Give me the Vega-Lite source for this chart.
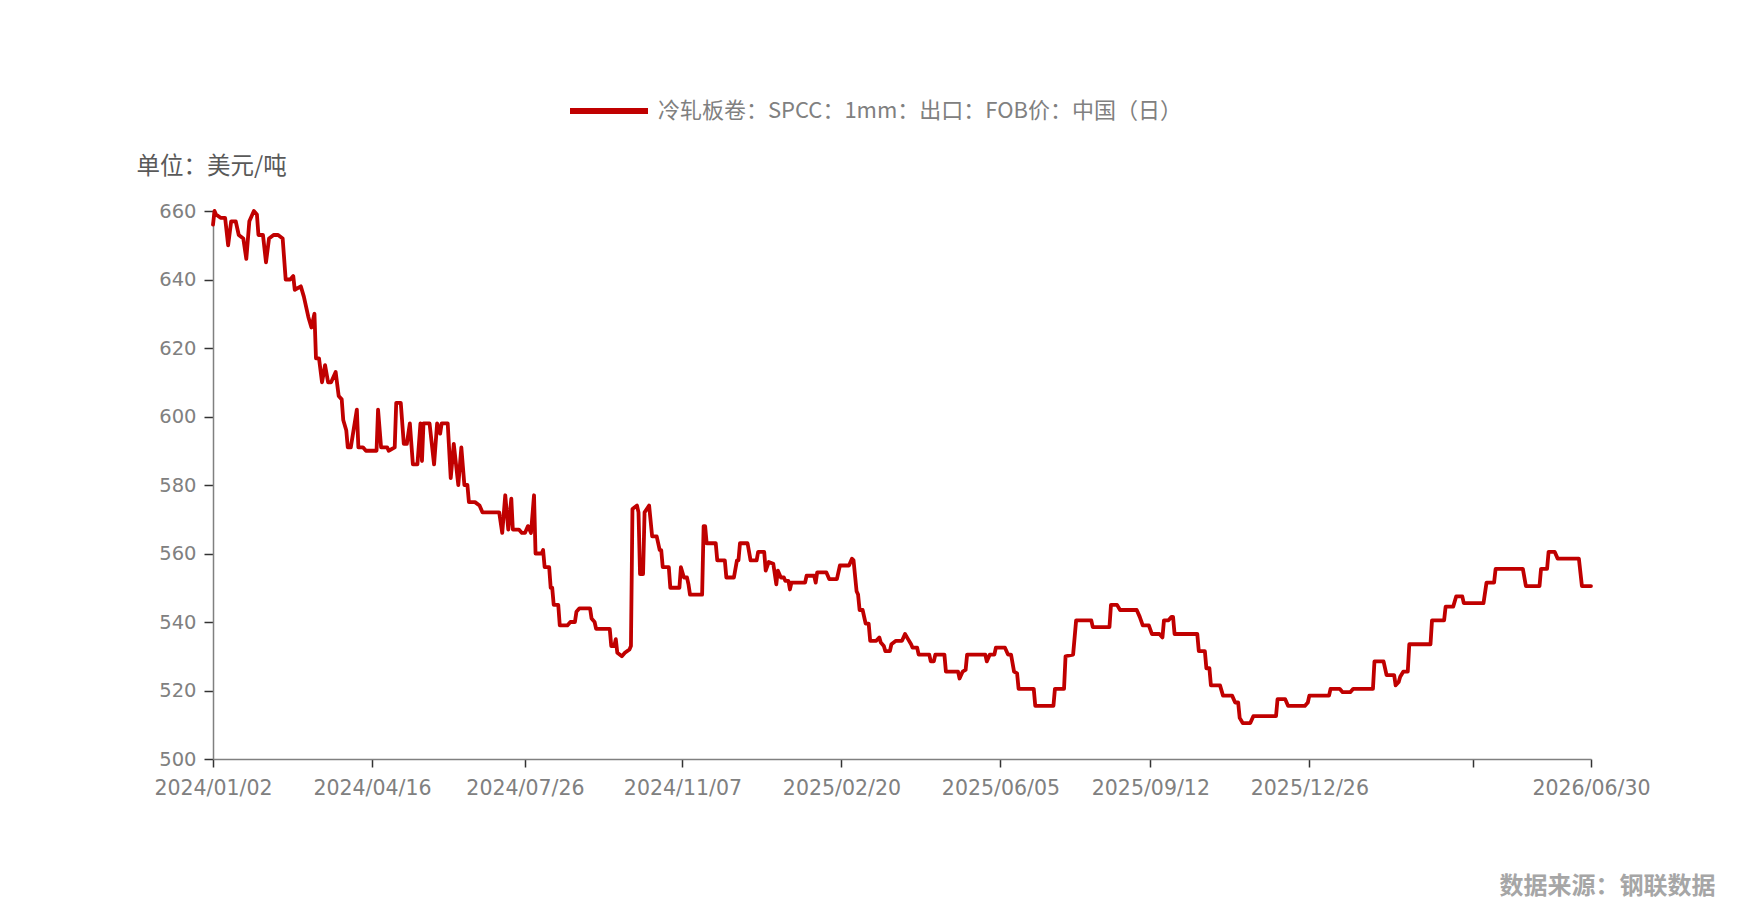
{
  "$schema": "https://vega.github.io/schema/vega-lite/v6.json",
  "width": 1378,
  "height": 548,
  "autosize": {"type": "none"},
  "padding": {"left": 213, "top": 211, "right": 159, "bottom": 159},
  "background": "white",
  "config": {"view": {"stroke": null}, "font": "Noto Sans CJK SC"},
  "data": {"values": [
    {"date": "2024-01-02", "price": 656}, {"date": "2024-01-03", "price": 660}, {"date": "2024-01-04", "price": 659},
    {"date": "2024-01-07", "price": 658}, {"date": "2024-01-10", "price": 658}, {"date": "2024-01-12", "price": 650},
    {"date": "2024-01-14", "price": 657}, {"date": "2024-01-17", "price": 657}, {"date": "2024-01-19", "price": 653},
    {"date": "2024-01-22", "price": 652}, {"date": "2024-01-24", "price": 646}, {"date": "2024-01-26", "price": 657},
    {"date": "2024-01-29", "price": 660}, {"date": "2024-01-31", "price": 659}, {"date": "2024-02-01", "price": 653},
    {"date": "2024-02-04", "price": 653}, {"date": "2024-02-06", "price": 645}, {"date": "2024-02-08", "price": 652},
    {"date": "2024-02-11", "price": 653}, {"date": "2024-02-14", "price": 653}, {"date": "2024-02-17", "price": 652},
    {"date": "2024-02-19", "price": 640}, {"date": "2024-02-22", "price": 640}, {"date": "2024-02-24", "price": 641},
    {"date": "2024-02-25", "price": 637}, {"date": "2024-02-29", "price": 638}, {"date": "2024-03-02", "price": 635},
    {"date": "2024-03-05", "price": 629}, {"date": "2024-03-07", "price": 626}, {"date": "2024-03-09", "price": 630},
    {"date": "2024-03-10", "price": 617}, {"date": "2024-03-12", "price": 617}, {"date": "2024-03-14", "price": 610},
    {"date": "2024-03-16", "price": 615}, {"date": "2024-03-18", "price": 610}, {"date": "2024-03-20", "price": 610},
    {"date": "2024-03-23", "price": 613}, {"date": "2024-03-25", "price": 606}, {"date": "2024-03-27", "price": 605},
    {"date": "2024-03-28", "price": 599}, {"date": "2024-03-30", "price": 596}, {"date": "2024-03-31", "price": 591},
    {"date": "2024-04-02", "price": 591}, {"date": "2024-04-06", "price": 602}, {"date": "2024-04-07", "price": 591},
    {"date": "2024-04-10", "price": 591}, {"date": "2024-04-12", "price": 590}, {"date": "2024-04-19", "price": 590},
    {"date": "2024-04-20", "price": 602}, {"date": "2024-04-22", "price": 591}, {"date": "2024-04-26", "price": 591},
    {"date": "2024-04-27", "price": 590}, {"date": "2024-05-01", "price": 591}, {"date": "2024-05-02", "price": 604},
    {"date": "2024-05-05", "price": 604}, {"date": "2024-05-07", "price": 592}, {"date": "2024-05-09", "price": 592},
    {"date": "2024-05-11", "price": 598}, {"date": "2024-05-13", "price": 586}, {"date": "2024-05-16", "price": 586},
    {"date": "2024-05-18", "price": 598}, {"date": "2024-05-19", "price": 587}, {"date": "2024-05-20", "price": 598},
    {"date": "2024-05-24", "price": 598}, {"date": "2024-05-27", "price": 586}, {"date": "2024-05-29", "price": 598},
    {"date": "2024-05-31", "price": 595}, {"date": "2024-06-01", "price": 598}, {"date": "2024-06-05", "price": 598},
    {"date": "2024-06-07", "price": 582}, {"date": "2024-06-09", "price": 592}, {"date": "2024-06-12", "price": 580},
    {"date": "2024-06-14", "price": 591}, {"date": "2024-06-16", "price": 580}, {"date": "2024-06-18", "price": 580},
    {"date": "2024-06-19", "price": 575}, {"date": "2024-06-23", "price": 575}, {"date": "2024-06-26", "price": 574},
    {"date": "2024-06-28", "price": 572}, {"date": "2024-07-09", "price": 572}, {"date": "2024-07-11", "price": 566},
    {"date": "2024-07-13", "price": 577}, {"date": "2024-07-15", "price": 567}, {"date": "2024-07-17", "price": 576},
    {"date": "2024-07-18", "price": 567}, {"date": "2024-07-22", "price": 567}, {"date": "2024-07-24", "price": 566},
    {"date": "2024-07-26", "price": 566}, {"date": "2024-07-28", "price": 568}, {"date": "2024-07-30", "price": 566},
    {"date": "2024-08-01", "price": 577}, {"date": "2024-08-02", "price": 560}, {"date": "2024-08-06", "price": 560},
    {"date": "2024-08-07", "price": 561}, {"date": "2024-08-08", "price": 556}, {"date": "2024-08-11", "price": 556},
    {"date": "2024-08-12", "price": 550}, {"date": "2024-08-13", "price": 550}, {"date": "2024-08-14", "price": 545},
    {"date": "2024-08-17", "price": 545}, {"date": "2024-08-18", "price": 539}, {"date": "2024-08-23", "price": 539},
    {"date": "2024-08-25", "price": 540}, {"date": "2024-08-28", "price": 540}, {"date": "2024-08-29", "price": 543},
    {"date": "2024-08-31", "price": 544}, {"date": "2024-09-07", "price": 544}, {"date": "2024-09-08", "price": 541},
    {"date": "2024-09-10", "price": 540}, {"date": "2024-09-11", "price": 538}, {"date": "2024-09-20", "price": 538},
    {"date": "2024-09-21", "price": 533}, {"date": "2024-09-23", "price": 533}, {"date": "2024-09-24", "price": 535},
    {"date": "2024-09-25", "price": 531}, {"date": "2024-09-28", "price": 530}, {"date": "2024-09-30", "price": 531},
    {"date": "2024-10-03", "price": 532}, {"date": "2024-10-04", "price": 533}, {"date": "2024-10-05", "price": 573},
    {"date": "2024-10-08", "price": 574}, {"date": "2024-10-09", "price": 572}, {"date": "2024-10-10", "price": 554},
    {"date": "2024-10-12", "price": 554}, {"date": "2024-10-13", "price": 572}, {"date": "2024-10-16", "price": 574},
    {"date": "2024-10-18", "price": 565}, {"date": "2024-10-21", "price": 565}, {"date": "2024-10-23", "price": 561},
    {"date": "2024-10-24", "price": 561}, {"date": "2024-10-25", "price": 556}, {"date": "2024-10-29", "price": 556},
    {"date": "2024-10-30", "price": 550}, {"date": "2024-11-05", "price": 550}, {"date": "2024-11-06", "price": 556},
    {"date": "2024-11-08", "price": 553}, {"date": "2024-11-10", "price": 553}, {"date": "2024-11-11", "price": 551},
    {"date": "2024-11-12", "price": 548}, {"date": "2024-11-20", "price": 548}, {"date": "2024-11-21", "price": 568},
    {"date": "2024-11-22", "price": 568}, {"date": "2024-11-23", "price": 563}, {"date": "2024-11-29", "price": 563},
    {"date": "2024-11-30", "price": 558}, {"date": "2024-12-05", "price": 558}, {"date": "2024-12-06", "price": 553},
    {"date": "2024-12-11", "price": 553}, {"date": "2024-12-13", "price": 558}, {"date": "2024-12-14", "price": 558},
    {"date": "2024-12-15", "price": 563}, {"date": "2024-12-20", "price": 563}, {"date": "2024-12-22", "price": 558},
    {"date": "2024-12-26", "price": 558}, {"date": "2024-12-27", "price": 560.5}, {"date": "2024-12-31", "price": 560.5},
    {"date": "2025-01-01", "price": 555}, {"date": "2025-01-03", "price": 557.5}, {"date": "2025-01-06", "price": 557},
    {"date": "2025-01-08", "price": 551}, {"date": "2025-01-09", "price": 555}, {"date": "2025-01-11", "price": 553},
    {"date": "2025-01-13", "price": 553}, {"date": "2025-01-14", "price": 552}, {"date": "2025-01-16", "price": 552},
    {"date": "2025-01-17", "price": 549.5}, {"date": "2025-01-18", "price": 551.5}, {"date": "2025-01-27", "price": 551.5},
    {"date": "2025-01-28", "price": 553.5}, {"date": "2025-02-02", "price": 553.5}, {"date": "2025-02-03", "price": 551.5},
    {"date": "2025-02-04", "price": 554.5}, {"date": "2025-02-10", "price": 554.5}, {"date": "2025-02-12", "price": 552.5},
    {"date": "2025-02-17", "price": 552.5}, {"date": "2025-02-19", "price": 556.5}, {"date": "2025-02-25", "price": 556.5},
    {"date": "2025-02-27", "price": 558.5}, {"date": "2025-02-28", "price": 558}, {"date": "2025-03-02", "price": 549},
    {"date": "2025-03-03", "price": 548}, {"date": "2025-03-04", "price": 543.5}, {"date": "2025-03-06", "price": 543.5},
    {"date": "2025-03-08", "price": 539.5}, {"date": "2025-03-10", "price": 539.5}, {"date": "2025-03-11", "price": 534.5},
    {"date": "2025-03-15", "price": 534.5}, {"date": "2025-03-17", "price": 535.5}, {"date": "2025-03-18", "price": 534},
    {"date": "2025-03-20", "price": 533}, {"date": "2025-03-21", "price": 531.5}, {"date": "2025-03-24", "price": 531.5},
    {"date": "2025-03-25", "price": 533.5}, {"date": "2025-03-28", "price": 534.5}, {"date": "2025-04-01", "price": 534.5},
    {"date": "2025-04-03", "price": 536.5}, {"date": "2025-04-05", "price": 535}, {"date": "2025-04-07", "price": 533.5},
    {"date": "2025-04-08", "price": 532.5}, {"date": "2025-04-11", "price": 532.5}, {"date": "2025-04-12", "price": 530.5},
    {"date": "2025-04-19", "price": 530.5}, {"date": "2025-04-20", "price": 528.5}, {"date": "2025-04-22", "price": 528.5},
    {"date": "2025-04-23", "price": 530.5}, {"date": "2025-04-29", "price": 530.5}, {"date": "2025-04-30", "price": 525.5},
    {"date": "2025-05-08", "price": 525.5}, {"date": "2025-05-09", "price": 523.5}, {"date": "2025-05-11", "price": 525.5},
    {"date": "2025-05-13", "price": 526}, {"date": "2025-05-14", "price": 530.5}, {"date": "2025-05-26", "price": 530.5},
    {"date": "2025-05-27", "price": 528.5}, {"date": "2025-05-29", "price": 530.5}, {"date": "2025-06-01", "price": 530.5},
    {"date": "2025-06-02", "price": 532.5}, {"date": "2025-06-08", "price": 532.5}, {"date": "2025-06-10", "price": 530.5},
    {"date": "2025-06-12", "price": 530.5}, {"date": "2025-06-14", "price": 525.5}, {"date": "2025-06-16", "price": 525},
    {"date": "2025-06-17", "price": 520.5}, {"date": "2025-06-27", "price": 520.5}, {"date": "2025-06-28", "price": 515.5},
    {"date": "2025-07-10", "price": 515.5}, {"date": "2025-07-11", "price": 520.5}, {"date": "2025-07-17", "price": 520.5},
    {"date": "2025-07-18", "price": 530}, {"date": "2025-07-23", "price": 530.5}, {"date": "2025-07-25", "price": 540.5},
    {"date": "2025-08-04", "price": 540.5}, {"date": "2025-08-05", "price": 538.5}, {"date": "2025-08-16", "price": 538.5},
    {"date": "2025-08-17", "price": 545}, {"date": "2025-08-21", "price": 545}, {"date": "2025-08-23", "price": 543.5},
    {"date": "2025-09-03", "price": 543.5}, {"date": "2025-09-05", "price": 541.5}, {"date": "2025-09-07", "price": 539},
    {"date": "2025-09-11", "price": 539}, {"date": "2025-09-13", "price": 536.5}, {"date": "2025-09-18", "price": 536.5},
    {"date": "2025-09-20", "price": 535.5}, {"date": "2025-09-21", "price": 540.5}, {"date": "2025-09-24", "price": 540.5},
    {"date": "2025-09-26", "price": 541.5}, {"date": "2025-09-27", "price": 541.5}, {"date": "2025-09-28", "price": 536.5},
    {"date": "2025-10-13", "price": 536.5}, {"date": "2025-10-14", "price": 531.5}, {"date": "2025-10-18", "price": 531.5},
    {"date": "2025-10-19", "price": 526.5}, {"date": "2025-10-21", "price": 526.5}, {"date": "2025-10-22", "price": 521.5},
    {"date": "2025-10-28", "price": 521.5}, {"date": "2025-10-30", "price": 518.5}, {"date": "2025-11-05", "price": 518.5},
    {"date": "2025-11-07", "price": 516.5}, {"date": "2025-11-09", "price": 516.5}, {"date": "2025-11-10", "price": 512},
    {"date": "2025-11-12", "price": 510.5}, {"date": "2025-11-17", "price": 510.5}, {"date": "2025-11-19", "price": 512.5},
    {"date": "2025-12-04", "price": 512.5}, {"date": "2025-12-05", "price": 517.5}, {"date": "2025-12-10", "price": 517.5},
    {"date": "2025-12-12", "price": 515.5}, {"date": "2025-12-23", "price": 515.5}, {"date": "2025-12-25", "price": 516.5},
    {"date": "2025-12-26", "price": 518.5}, {"date": "2026-01-08", "price": 518.5}, {"date": "2026-01-09", "price": 520.5},
    {"date": "2026-01-15", "price": 520.5}, {"date": "2026-01-17", "price": 519.5}, {"date": "2026-01-22", "price": 519.5},
    {"date": "2026-01-24", "price": 520.5}, {"date": "2026-02-06", "price": 520.5}, {"date": "2026-02-07", "price": 528.5},
    {"date": "2026-02-13", "price": 528.5}, {"date": "2026-02-15", "price": 524.5}, {"date": "2026-02-20", "price": 524.5},
    {"date": "2026-02-21", "price": 521.5}, {"date": "2026-02-23", "price": 522.5}, {"date": "2026-02-24", "price": 524},
    {"date": "2026-02-26", "price": 525.5}, {"date": "2026-03-01", "price": 525.5}, {"date": "2026-03-02", "price": 533.5},
    {"date": "2026-03-16", "price": 533.5}, {"date": "2026-03-17", "price": 540.5}, {"date": "2026-03-25", "price": 540.5},
    {"date": "2026-03-26", "price": 544.5}, {"date": "2026-03-31", "price": 544.5}, {"date": "2026-04-02", "price": 547.5},
    {"date": "2026-04-06", "price": 547.5}, {"date": "2026-04-07", "price": 545.5}, {"date": "2026-04-20", "price": 545.5},
    {"date": "2026-04-22", "price": 551.5}, {"date": "2026-04-27", "price": 551.5}, {"date": "2026-04-28", "price": 555.5},
    {"date": "2026-05-16", "price": 555.5}, {"date": "2026-05-18", "price": 550.5}, {"date": "2026-05-27", "price": 550.5},
    {"date": "2026-05-28", "price": 555.5}, {"date": "2026-06-01", "price": 555.5}, {"date": "2026-06-02", "price": 560.5},
    {"date": "2026-06-06", "price": 560.5}, {"date": "2026-06-08", "price": 558.5}, {"date": "2026-06-22", "price": 558.5},
    {"date": "2026-06-24", "price": 550.5}, {"date": "2026-06-30", "price": 550.5}
  ]},
  "mark": {"type": "line", "strokeWidth": 3.8, "interpolate": "linear", "strokeJoin": "round", "strokeCap": "round"},
  "encoding": {
    "x": {
      "field": "date",
      "type": "temporal",
      "scale": {"type": "utc", "domain": [{"year": 2024, "month": 1, "date": 2, "utc": true}, {"year": 2026, "month": 6, "date": 30, "utc": true}]},
      "axis": {
        "values": [
          {"year": 2024, "month": 1, "date": 2, "utc": true},
          {"year": 2024, "month": 4, "date": 16, "utc": true},
          {"year": 2024, "month": 7, "date": 26, "utc": true},
          {"year": 2024, "month": 11, "date": 7, "utc": true},
          {"year": 2025, "month": 2, "date": 20, "utc": true},
          {"year": 2025, "month": 6, "date": 5, "utc": true},
          {"year": 2025, "month": 9, "date": 12, "utc": true},
          {"year": 2025, "month": 12, "date": 26, "utc": true},
          {"year": 2026, "month": 4, "date": 13, "utc": true},
          {"year": 2026, "month": 6, "date": 30, "utc": true}
        ],
        "labelExpr": "utcyear(datum.value) == 2026 && utcmonth(datum.value) == 3 ? '' : utcFormat(datum.value, '%Y/%m/%d')",
        "labelOverlap": false,
        "labelFlush": false,
        "labelFont": "DejaVu Sans",
        "labelFontSize": 20.5,
        "labelColor": "#808080",
        "labelPadding": 11,
        "tickSize": 8,
        "tickWidth": 1.5,
        "tickColor": "#333333",
        "domainColor": "#808080",
        "domainWidth": 1.5,
        "grid": false,
        "title": "数据来源：钢联数据",
        "titleFont": "Noto Sans CJK SC",
        "titleFontSize": 24,
        "titleFontWeight": "bold",
        "titleColor": "#a6a6a6",
        "titleX": 1502,
        "titleY": 127,
        "titleAlign": "right",
        "titleBaseline": "middle"
      }
    },
    "y": {
      "field": "price",
      "type": "quantitative",
      "scale": {"domain": [500, 660], "nice": false, "zero": false},
      "axis": {
        "values": [500, 520, 540, 560, 580, 600, 620, 640, 660],
        "labelFont": "DejaVu Sans",
        "labelFontSize": 19.5,
        "labelColor": "#808080",
        "labelPadding": 8,
        "tickSize": 9,
        "tickWidth": 1.5,
        "tickColor": "#333333",
        "domainColor": "#808080",
        "domainWidth": 1.5,
        "grid": false,
        "title": "单位：美元/吨",
        "titleFont": "Noto Sans CJK SC",
        "titleFontSize": 23.5,
        "titleFontWeight": "normal",
        "titleColor": "#595959",
        "titleAngle": 0,
        "titleX": -77,
        "titleY": -45,
        "titleAlign": "left",
        "titleBaseline": "middle"
      }
    },
    "color": {
      "datum": "冷轧板卷：SPCC：1mm：出口：FOB价：中国（日）",
      "scale": {"range": ["#C00000"]},
      "legend": {
        "orient": "none",
        "legendX": 354,
        "legendY": -142,
        "direction": "horizontal",
        "title": null,
        "padding": 0,
        "symbolType": "stroke",
        "symbolSize": 6084,
        "symbolStrokeWidth": 6,
        "labelFont": "Noto Sans CJK SC",
        "labelFontSize": 22,
        "labelColor": "#808080",
        "labelOffset": 7,
        "labelLimit": 800
      }
    }
  }
}
